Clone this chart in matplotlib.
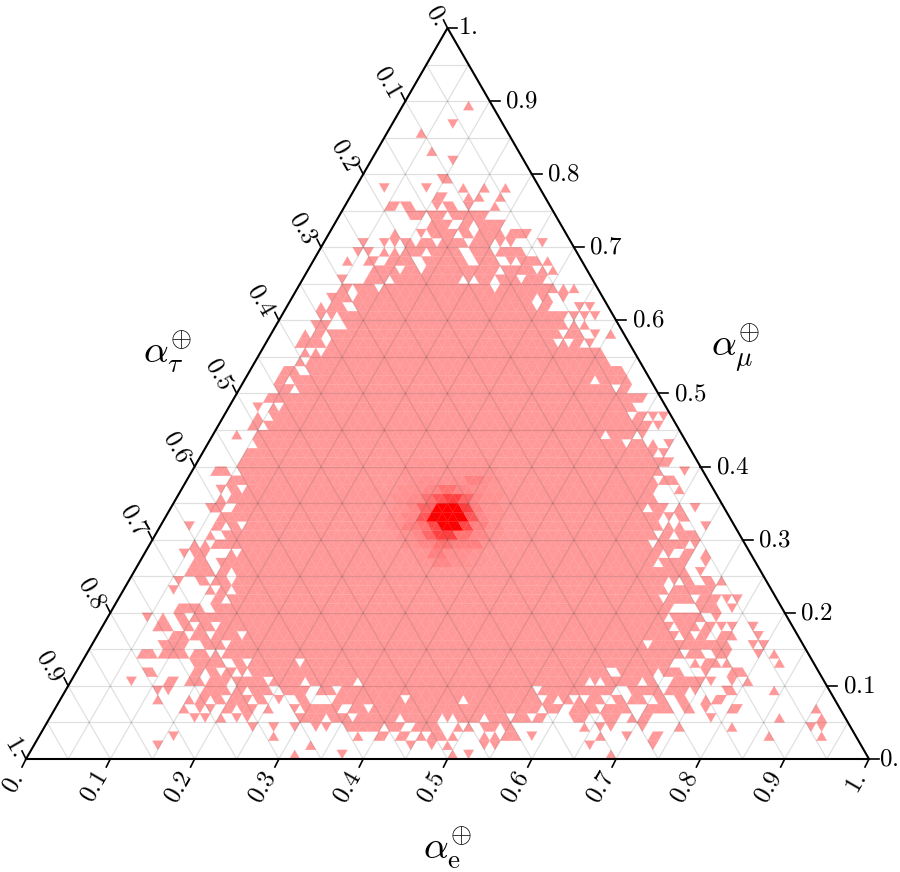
import numpy as np
import matplotlib
matplotlib.use("Agg")
import matplotlib.pyplot as plt
from matplotlib.collections import PolyCollection

plt.rcParams["mathtext.fontset"] = "cm"
plt.rcParams["font.family"] = "DejaVu Serif"

N_BINS = 80
H = np.sqrt(3) / 2
PX = 1 / 843  # one pixel in axis units

# occupied cells, one list per row from the bottom edge
# column index counts half-cell widths, an int is one cell and a tuple a run
ROW_0 = [51, 60, 81, 84, 111]
ROW_1 = [25, 54, 73, 77, 80, 87, 89, 107, 119]
ROW_2 = [28, 47, 63, (67, 68), (71, 72), 75, 77, (78, 79), 81, 87, 89, (91, 93), 96, 109, 114, (119, 120), 141, 151]
ROW_3 = [43, 47, 51, 55, 57, 61, (62, 67), (69, 71), (74, 78), 82, 84, (87, 89), (91, 92), 106, 109, 111, 117, 124, 134, 149, 151]
ROW_4 = [32, 34, 37, 40, 42, (52, 56), (58, 61), (63, 70), (72, 78), 80, (82, 86), (88, 91), (93, 95), (97, 98), (104, 106), (110, 112), 115, (117, 118), 130, 143, 151]
ROW_5 = [30, 33, 35, (38, 39), (41, 43), 46, 51, (53, 57), (58, 59), (62, 64), (66, 97), (99, 101), (104, 108), (110, 114), (118, 122), (125, 126), 129, (134, 135), 150]
ROW_6 = [25, 31, (33, 34), (36, 37), (39, 42), (44, 45), 48, (52, 53), (59, 71), (73, 82), (84, 97), (99, 100), (102, 103), 105, (107, 109), (112, 113), (115, 117), (120, 121), (124, 125), 129, (131, 132)]
ROW_7 = [25, 27, (34, 38), (40, 41), (43, 46), (49, 53), (56, 58), (60, 96), (98, 111), (115, 120), (122, 125), 127, (133, 134), 142]
ROW_8 = [20, (27, 28), (31, 33), (35, 38), (40, 45), (47, 52), (54, 62), (64, 106), 108, (110, 116), (118, 119), (123, 128), 130, 134, 137]
ROW_9 = [(23, 24), (32, 33), (35, 36), (38, 39), 41, (43, 110), (113, 119), (121, 124), 129, (134, 136)]
ROW_10 = [(32, 37), (40, 41), (43, 51), (53, 122), 127, (129, 131), 133, 143]
ROW_11 = [(22, 24), (26, 30), (32, 34), 36, (38, 124), (126, 128), (131, 133), 139, 142]
ROW_12 = [(26, 30), (34, 37), (39, 117), (119, 133), 138, 140]
ROW_13 = [(28, 30), (32, 34), (36, 40), (42, 123), (125, 126), (128, 129), (132, 134), 139]
ROW_14 = [(25, 27), (30, 31), (33, 35), (37, 122), (124, 127), (129, 130), 132, 134, 138]
ROW_15 = [23, 26, (29, 30), (32, 121), (123, 128), 131]
ROW_16 = [(29, 33), (36, 122), (128, 131), 134]
ROW_17 = [(36, 37), (39, 120), (122, 126), (128, 130), 131, 133, 135]
ROW_18 = [28, 35, (37, 38), (40, 121), (123, 130)]
ROW_19 = [29, (33, 34), (36, 38), (40, 121), 123, (125, 126), (129, 130), 132]
ROW_20 = [(31, 35), (37, 38), (40, 125), 128]
ROW_21 = [(32, 34), (37, 119), (121, 125), 129]
ROW_22 = [30, (32, 34), 39, (41, 120), 122, (125, 126), 129]
ROW_23 = [32, 34, (36, 118), (120, 125), 127]
ROW_24 = [35, (38, 119), (121, 122), (124, 127)]
ROW_25 = [31, (36, 37), (39, 40), (42, 120), 122, 124, 129]
ROW_26 = [(37, 120), 122, (124, 125)]
ROW_27 = [(35, 37), (40, 117), (119, 121), 124, 127]
ROW_28 = [37, (39, 119)]
ROW_29 = [37, (39, 40), (42, 119), 124]
ROW_30 = [(39, 119), (121, 123)]
ROW_31 = [(36, 38), (41, 120), 125]
ROW_32 = [(41, 122)]
ROW_33 = [(42, 119), 121]
ROW_34 = [(44, 113), (115, 117), 119, 122]
ROW_35 = [40, (44, 109), (111, 115), 117]
ROW_36 = [(43, 44), (46, 118), 120]
ROW_37 = [44, (47, 114), (116, 117), 119, 121]
ROW_38 = [44, 47, (49, 115)]
ROW_39 = [(46, 117)]
ROW_40 = [(48, 50), (52, 111), (113, 114)]
ROW_41 = [(48, 49), (51, 107), (109, 114)]
ROW_42 = [(49, 51), (54, 113)]
ROW_43 = [52, (54, 110)]
ROW_44 = [53, 55, (57, 109)]
ROW_45 = [(52, 56), (58, 100), 102, (104, 105), 107]
ROW_46 = [53, (55, 56), (58, 101), (103, 105), 108, 111]
ROW_47 = [(55, 57), (61, 102), 104, 106]
ROW_48 = [56, 58, (60, 102), 104, 106, 108]
ROW_49 = [56, (58, 60), (63, 96), (98, 99), 105, 107]
ROW_50 = [(58, 61), (63, 96), (98, 99), 102]
ROW_51 = [(60, 61), (63, 66), (68, 88), (90, 100), 102, 104]
ROW_52 = [60, 65, (66, 68), (70, 82), 84, (86, 88), (90, 93), (95, 98)]
ROW_53 = [(66, 70), (72, 74), (76, 89), (91, 96), 98, 100]
ROW_54 = [61, (65, 66), (69, 73), (76, 83), (86, 89), 92, (94, 97), 99]
ROW_55 = [63, 65, 68, 70, (72, 75), (77, 82), (85, 88), (90, 94)]
ROW_56 = [64, 68, 70, (72, 73), (75, 77), (79, 83), (85, 88), 90, 92, 98]
ROW_57 = [70, 75, (77, 81), (83, 84), (86, 90), 92, (93, 95)]
ROW_58 = [(77, 80), (83, 84), (86, 90)]
ROW_59 = [(73, 75), (77, 79), (81, 87)]
ROW_60 = [(69, 70), (72, 73), 78, (80, 81), 84, 89]
ROW_61 = [(78, 79), 84, 86, 90]
ROW_62 = [68, 76, 83, 87, 91]
ROW_63 = [(79, 80)]
ROW_65 = [81]
ROW_66 = [77]
ROW_68 = [75]
ROW_69 = [81]
ROW_71 = [84]

ROW_CELLS = {
    0: ROW_0, 1: ROW_1, 2: ROW_2, 3: ROW_3, 4: ROW_4, 5: ROW_5, 6: ROW_6, 7: ROW_7,
    8: ROW_8, 9: ROW_9, 10: ROW_10, 11: ROW_11, 12: ROW_12, 13: ROW_13, 14: ROW_14,
    15: ROW_15, 16: ROW_16, 17: ROW_17, 18: ROW_18, 19: ROW_19, 20: ROW_20, 21: ROW_21,
    22: ROW_22, 23: ROW_23, 24: ROW_24, 25: ROW_25, 26: ROW_26, 27: ROW_27, 28: ROW_28,
    29: ROW_29, 30: ROW_30, 31: ROW_31, 32: ROW_32, 33: ROW_33, 34: ROW_34, 35: ROW_35,
    36: ROW_36, 37: ROW_37, 38: ROW_38, 39: ROW_39, 40: ROW_40, 41: ROW_41, 42: ROW_42,
    43: ROW_43, 44: ROW_44, 45: ROW_45, 46: ROW_46, 47: ROW_47, 48: ROW_48, 49: ROW_49,
    50: ROW_50, 51: ROW_51, 52: ROW_52, 53: ROW_53, 54: ROW_54, 55: ROW_55, 56: ROW_56,
    57: ROW_57, 58: ROW_58, 59: ROW_59, 60: ROW_60, 61: ROW_61, 62: ROW_62, 63: ROW_63,
    65: ROW_65, 66: ROW_66, 68: ROW_68, 69: ROW_69, 71: ROW_71,
}

BASE_LEVEL = 0.4

# denser cells around the centre: row, first column, last column, level
PEAK_CELLS = [
    (32, 74, 88, 0.415),
    (31, 72, 89, 0.42),
    (30, 72, 74, 0.42), (30, 75, 77, 0.44), (30, 78, 83, 0.43), (30, 84, 86, 0.5), (30, 87, 88, 0.44), (30, 89, 90, 0.42),
    (29, 71, 75, 0.43), (29, 76, 78, 0.47), (29, 79, 81, 0.55), (29, 82, 84, 0.47), (29, 85, 87, 0.44), (29, 88, 90, 0.42),
    (28, 70, 72, 0.43), (28, 73, 75, 0.46), (28, 76, 77, 0.55), (28, 78, 79, 0.66), (28, 80, 82, 0.75), (28, 83, 84, 0.6), (28, 85, 86, 0.47), (28, 87, 90, 0.43),
    (27, 70, 72, 0.43), (27, 73, 74, 0.47), (27, 75, 77, 0.6), (27, 78, 82, 1.0), (27, 83, 84, 0.75), (27, 85, 86, 0.5), (27, 87, 90, 0.43),
    (26, 69, 71, 0.43), (26, 72, 74, 0.47), (26, 75, 76, 0.66), (26, 77, 83, 1.0), (26, 84, 85, 0.66), (26, 86, 87, 0.47), (26, 88, 90, 0.43),
    (25, 69, 71, 0.43), (25, 72, 74, 0.5), (25, 75, 76, 0.55), (25, 77, 78, 0.72), (25, 79, 82, 1.0), (25, 83, 84, 0.72), (25, 85, 87, 0.5), (25, 88, 90, 0.43),
    (24, 71, 73, 0.43), (24, 74, 75, 0.47), (24, 76, 77, 0.6), (24, 78, 81, 0.75), (24, 82, 84, 0.55), (24, 85, 87, 0.47), (24, 88, 90, 0.42),
    (23, 72, 74, 0.43), (23, 75, 77, 0.47), (23, 78, 80, 0.55), (23, 81, 83, 0.5), (23, 84, 86, 0.5), (23, 87, 89, 0.42),
    (22, 74, 76, 0.42), (22, 77, 79, 0.5), (22, 80, 84, 0.44), (22, 85, 86, 0.42),
    (21, 75, 77, 0.42), (21, 78, 80, 0.47), (21, 81, 84, 0.43), (21, 85, 87, 0.41),
]

BOTTOM_TICKS = [0.0, 0.1, 0.2, 0.3, 0.4, 0.5, 0.6, 0.7, 0.8, 0.9, 1.0]
TICK_LABELS = ["0.", "0.1", "0.2", "0.3", "0.4", "0.5", "0.6", "0.7", "0.8", "0.9", "1."]


def expand_row(items):
    cols = []
    for item in items:
        if isinstance(item, tuple):
            cols.extend(range(item[0], item[1] + 1))
        else:
            cols.append(item)
    return cols


def cell_polygon(row, col):
    w = 1 / N_BINS
    h = H / N_BINS
    xc = col * w / 2
    if (col - row - 1) % 2 == 0:
        return [(xc - w / 2, row * h), (xc + w / 2, row * h), (xc, (row + 1) * h)]
    return [(xc - w / 2, (row + 1) * h), (xc + w / 2, (row + 1) * h), (xc, row * h)]


def level_color(level):
    return (1.0, 1.0 - level, 1.0 - level)


def draw_cells(ax):
    levels = {}
    for row, items in ROW_CELLS.items():
        for col in expand_row(items):
            if row + 1 <= col <= 2 * N_BINS - 1 - row:
                levels[(row, col)] = BASE_LEVEL
    for row, first, last, level in PEAK_CELLS:
        for col in range(first, last + 1):
            levels[(row, col)] = level

    polys = [cell_polygon(r, c) for r, c in levels]
    colors = [level_color(v) for v in levels.values()]
    ax.add_collection(PolyCollection(polys, facecolors=colors, edgecolors="face", linewidths=0.15, zorder=1))


def draw_grid(ax):
    for t in np.arange(1, 20) / 20:
        style = dict(color="black", alpha=0.12, linewidth=0.9, zorder=2, solid_capstyle="butt")
        ax.plot([t / 2, 1 - t / 2], [t * H, t * H], **style)
        ax.plot([t, t / 2], [0, t * H], **style)
        ax.plot([t, (1 + t) / 2], [0, (1 - t) * H], **style)


def draw_frame(ax):
    ax.plot([0, 1, 0.5, 0], [0, 0, H, 0], color="black", linewidth=1.5, zorder=3, clip_on=False)

    tick = dict(color="black", linewidth=1.2, zorder=3, clip_on=False)
    text = dict(fontsize=18, ha="center", va="center", rotation_mode="anchor")
    for t, label in zip(BOTTOM_TICKS, TICK_LABELS):
        is_end = label.endswith(".")

        # bottom edge
        ax.plot([t, t - 4 * PX], [0, -8 * PX], **tick)
        dx, dy = (-13, -24) if is_end else (-16, -28)
        ax.text(t + dx * PX, dy * PX, f"${label}$", rotation=60, **text)

        # right edge, value grows towards the top
        x, y = 1 - t / 2, t * H
        ax.plot([x, x + 10 * PX], [y, y], **tick)
        ax.text(x + (20 if is_end else 32) * PX, y, f"${label}$", **text)

        # left edge, value grows towards the lower corner
        x, y = (1 - t) / 2, (1 - t) * H
        ax.plot([x, x - 4 * PX], [y, y + 8 * PX], **tick)
        dx, dy = (-11, 13) if is_end else (-18, 20)
        ax.text(x + dx * PX, y + dy * PX, f"${label}$", rotation=-60, **text)


def main():
    fig = plt.figure(figsize=(9, 8.72), dpi=100)
    ax = fig.add_axes([26 / 900, (872 - 759) / 872, 843 / 900, 731 / 872])
    ax.set_xlim(0, 1)
    ax.set_ylim(0, H)
    ax.axis("off")

    draw_cells(ax)
    draw_grid(ax)
    draw_frame(ax)

    ax.text(0.5, -90 * PX, r"$\alpha_{\mathrm{e}}^{\oplus}$", fontsize=28, ha="center", va="center")
    ax.text(141 * PX, 406 * PX, r"$\alpha_{\tau}^{\oplus}$", fontsize=28, ha="center", va="center")
    ax.text(709 * PX, 410 * PX, r"$\alpha_{\mu}^{\oplus}$", fontsize=28, ha="center", va="center")

    fig.savefig("out.png", dpi=100)


if __name__ == "__main__":
    main()
